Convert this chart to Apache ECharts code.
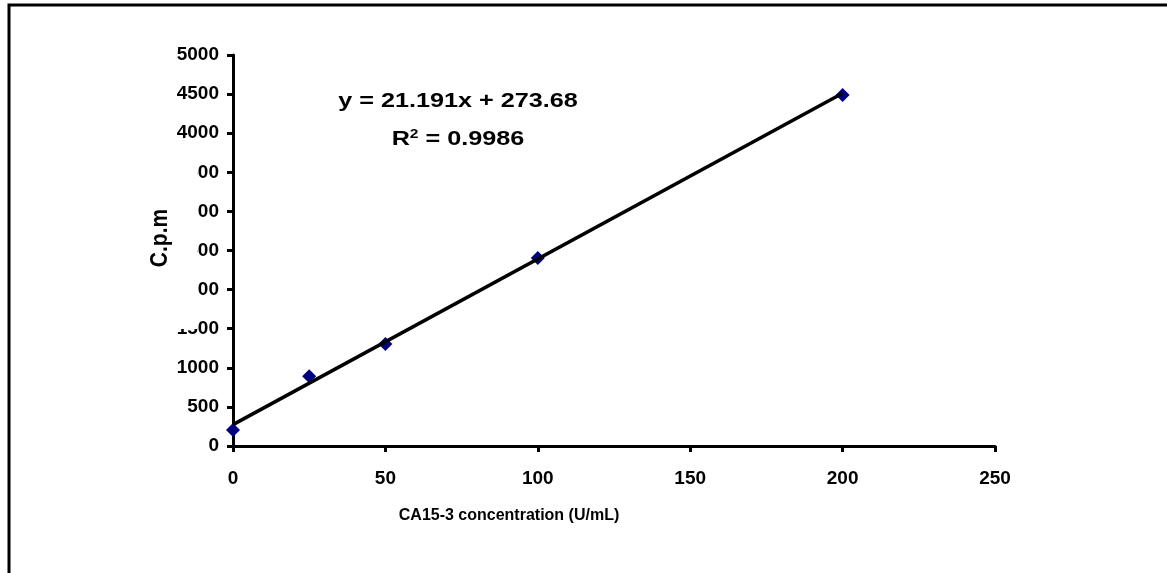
<!DOCTYPE html>
<html>
<head>
<meta charset="utf-8">
<script src="https://cdn.jsdelivr.net/npm/echarts@6/dist/echarts.min.js"></script>
<style>
  html, body { margin: 0; padding: 0; background: #fff; }
  #chart { width: 1167px; height: 573px; }
</style>
</head>
<body>
<div id="chart"></div>
<script>
// measured points (CA15-3 standards)
const concentration = [0, 25, 50, 100, 200]
const cpm = [205, 893, 1305, 2405, 4490]

// linear trendline y = 21.191x + 273.68, end points
const trendX = [0, 200]
const trendY = [273.68, 4511.88]

const equationText = 'y = 21.191x + 273.68'
const r2Text = '0.9986'

const font = 'Liberation Sans, Arial, sans-serif'

const chart = echarts.init(document.getElementById('chart'))

chart.setOption({
  backgroundColor: '#fff',
  animation: false,
  grid: { left: 233, right: 172, top: 55, bottom: 127 },
  xAxis: {
    type: 'value',
    min: 0, max: 250, interval: 50,
    axisLine: { show: true, lineStyle: { color: '#000', width: 3 } },
    axisTick: { show: true, length: 6, lineStyle: { color: '#000', width: 3 } },
    axisLabel: {
      color: '#000', fontFamily: font, fontWeight: 'bold', fontSize: 19, margin: 23,
      formatter: v => String(v),
    },
    splitLine: { show: false },
  },
  yAxis: {
    type: 'value',
    min: 0, max: 5000, interval: 500,
    axisLine: { show: true, lineStyle: { color: '#000', width: 3 } },
    axisTick: { show: true, length: 6, lineStyle: { color: '#000', width: 3 } },
    axisLabel: {
      color: '#000', fontFamily: font, fontWeight: 'bold', fontSize: 19, margin: 14,
      formatter: v => String(v),
    },
    splitLine: { show: false },
  },
  series: [
    {
      name: 'data',
      type: 'scatter',
      data: concentration.map((x, i) => [x, cpm[i]]),
      symbol: 'diamond',
      symbolSize: 14,
      itemStyle: { color: '#000080', opacity: 1 },
      z: 2,
    },
    {
      name: 'trend',
      type: 'line',
      data: trendX.map((x, i) => [x, trendY[i]]),
      showSymbol: false,
      lineStyle: { color: '#000', width: 3.5 },
      z: 3,
    },
  ],
  graphic: [
    // frame: only top and left edges visible
    {
      type: 'polyline',
      shape: { points: [[9, 573], [9, 5], [1167, 5]] },
      style: { stroke: '#000', lineWidth: 3, fill: null },
      z: 100,
    },
    // axis title box sits over some tick labels
    {
      type: 'rect',
      shape: { x: 148, y: 150, width: 49, height: 179 },
      style: { fill: '#fff' },
      z: 100,
    },
    {
      type: 'text',
      x: 160, y: 238,
      rotation: Math.PI / 2,
      scaleY: 1.15,
      style: {
        text: 'C.p.m',
        fill: '#000',
        font: 'bold 21px ' + font,
        align: 'center',
        verticalAlign: 'middle',
      },
      z: 101,
    },
    {
      type: 'text',
      x: 509, y: 516,
      style: {
        text: 'CA15-3 concentration (U/mL)',
        fill: '#000',
        font: 'bold 16px ' + font,
        align: 'center',
        verticalAlign: 'middle',
      },
      z: 101,
    },
    {
      type: 'text',
      x: 458, y: 101,
      scaleX: 1.2,
      style: {
        text: equationText,
        fill: '#000',
        font: 'bold 21px ' + font,
        align: 'center',
        verticalAlign: 'middle',
      },
      z: 101,
    },
    {
      type: 'text',
      x: 458, y: 139,
      scaleX: 1.2,
      style: {
        text: '{b|R}{s|2}{b| = ' + r2Text + '}',
        align: 'center',
        verticalAlign: 'middle',
        rich: {
          b: { fill: '#000', fontFamily: font, fontWeight: 'bold', fontSize: 21 },
          s: { fill: '#000', fontFamily: font, fontWeight: 'bold', fontSize: 13, verticalAlign: 'top', padding: [0, 0, 10, 0] },
        },
      },
      z: 101,
    },
  ],
})
</script>
</body>
</html>
